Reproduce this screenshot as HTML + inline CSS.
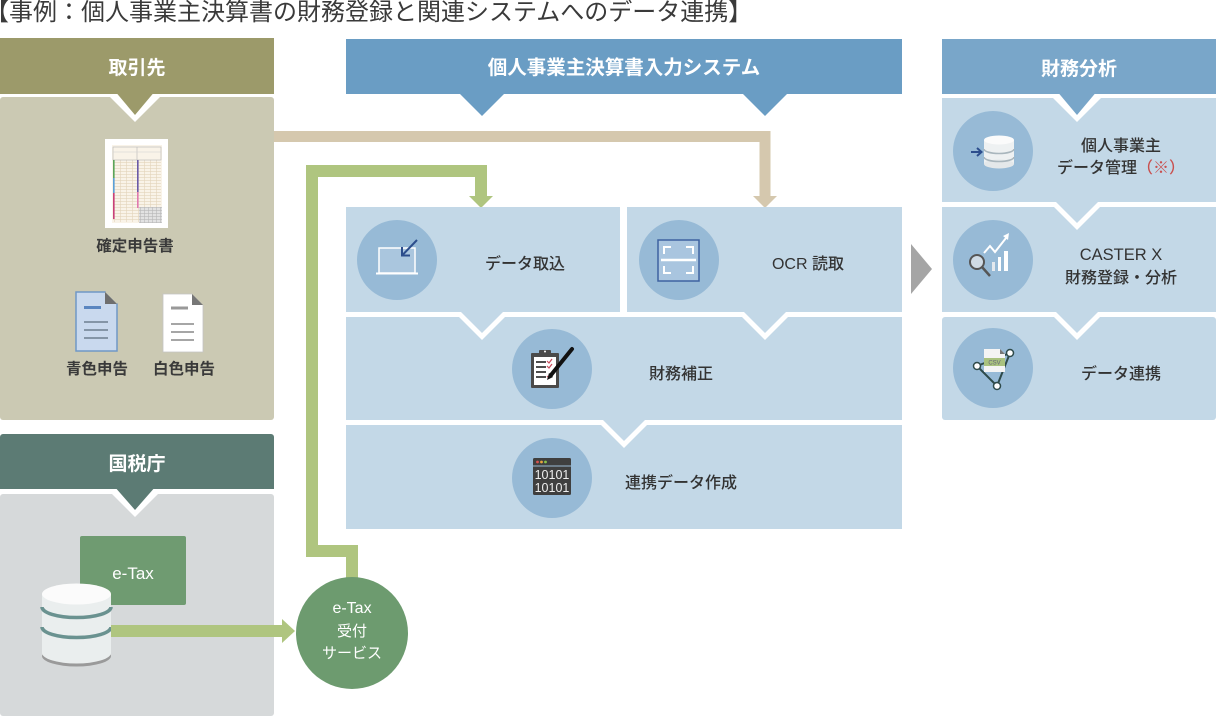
<!DOCTYPE html>
<html><head><meta charset="utf-8">
<style>
html,body{margin:0;padding:0;background:#fff;width:1216px;height:717px;overflow:hidden}
svg{display:block}
text{font-family:"Liberation Sans","Noto Sans CJK JP",sans-serif}
</style></head><body>
<svg width="1216" height="717" viewBox="0 0 1216 717" xmlns="http://www.w3.org/2000/svg">
<defs>
<pattern id="grid" width="6" height="3" patternUnits="userSpaceOnUse">
<path d="M0,0.3 H6 M0.3,0 V3" stroke="#e2d4ba" stroke-width="0.6" fill="none"/>
</pattern>
<pattern id="grid2" width="4" height="3" patternUnits="userSpaceOnUse">
<path d="M0,0.3 H4 M0.3,0 V3" stroke="#b8b8b8" stroke-width="0.6" fill="none"/>
</pattern>
</defs>

<!-- Title -->
<text x="-15" y="20" font-size="24" fill="#3a3a3a">【事例：個人事業主決算書の財務登録と関連システムへのデータ連携】</text>

<!-- ===== 取引先 column ===== -->
<rect x="0" y="97" width="274" height="323" rx="3" fill="#cbc9b3"/>
<polygon points="107,94 163,94 135,122" fill="#fff"/>
<rect x="0" y="38" width="274" height="56" fill="#9c9a6a"/>
<polygon points="114,90 156,90 135,115" fill="#9c9a6a"/>
<text x="137" y="74" font-size="19" font-weight="bold" fill="#fff" text-anchor="middle">取引先</text>

<!-- spreadsheet doc -->
<rect x="105" y="139" width="63" height="89" fill="#fff"/>
<rect x="112" y="145" width="50" height="78" fill="#f9f3e8"/>
<rect x="113" y="160" width="48" height="62" fill="url(#grid)"/>
<rect x="113" y="147" width="48" height="13" fill="none" stroke="#b5b5b5" stroke-width="0.6"/>
<line x1="137" y1="147" x2="137" y2="160" stroke="#b5b5b5" stroke-width="0.6"/>
<line x1="113" y1="152" x2="161" y2="152" stroke="#cfcfcf" stroke-width="0.5"/>
<rect x="113" y="160" width="1.6" height="18" fill="#5aa55a"/>
<rect x="113" y="178" width="1.6" height="15" fill="#5aa0d8"/>
<rect x="113" y="193" width="1.6" height="26" fill="#c8407a"/>
<rect x="137" y="160" width="1.6" height="32" fill="#6a5aa8"/>
<rect x="137" y="192" width="1.6" height="16" fill="#e07ab0"/>
<rect x="139" y="207" width="23" height="16" fill="#e2e2e2"/>
<rect x="139" y="207" width="23" height="16" fill="url(#grid2)"/>

<text x="135" y="251" font-size="15.5" font-weight="bold" fill="#3a3a3a" text-anchor="middle">確定申告書</text>

<!-- blue doc -->
<path d="M76,292 H105 L117,304 V351 H76 Z" fill="#c9d9ee" stroke="#7097c6" stroke-width="1.5"/>
<polygon points="105,292 117,292 117,304" fill="#cbc9b3"/>
<polygon points="105,292 117,304 105,304" fill="#6e6e6e"/>
<line x1="84" y1="307.5" x2="101" y2="307.5" stroke="#5a86c0" stroke-width="3"/>
<line x1="84" y1="322" x2="108" y2="322" stroke="#6d7f8f" stroke-width="1.5"/>
<line x1="84" y1="330" x2="108" y2="330" stroke="#6d7f8f" stroke-width="1.5"/>
<line x1="84" y1="338" x2="108" y2="338" stroke="#6d7f8f" stroke-width="1.5"/>
<text x="97" y="374" font-size="15.5" font-weight="bold" fill="#3a3a3a" text-anchor="middle">青色申告</text>

<!-- white doc -->
<path d="M163,294 H192 L203,305 V352 H163 Z" fill="#fff" stroke="#c4c4c4" stroke-width="0.8"/>
<polygon points="192,294 203,294 203,305" fill="#cbc9b3"/>
<polygon points="192,294 203,305 192,305" fill="#777"/>
<line x1="171" y1="308" x2="188" y2="308" stroke="#999" stroke-width="3"/>
<line x1="171" y1="324" x2="194" y2="324" stroke="#888" stroke-width="1.5"/>
<line x1="171" y1="332" x2="194" y2="332" stroke="#888" stroke-width="1.5"/>
<line x1="171" y1="340" x2="194" y2="340" stroke="#888" stroke-width="1.5"/>
<text x="184" y="374" font-size="15.5" font-weight="bold" fill="#3a3a3a" text-anchor="middle">白色申告</text>

<!-- ===== 国税庁 column ===== -->
<rect x="0" y="494" width="274" height="222" rx="3" fill="#d6d9da"/>
<polygon points="107,489 163,489 135,517" fill="#fff"/>
<rect x="0" y="434" width="274" height="55" rx="3" fill="#5c7b74"/>
<rect x="0" y="440" width="274" height="49" fill="#5c7b74"/>
<polygon points="114,486 156,486 135,510" fill="#5c7b74"/>
<text x="137" y="470" font-size="19" font-weight="bold" fill="#fff" text-anchor="middle">国税庁</text>

<rect x="80" y="536" width="106" height="69" rx="2" fill="#6f9b71"/>
<text x="133" y="579" font-size="17" fill="#fff" text-anchor="middle">e-Tax</text>

<!-- DB cylinder -->
<ellipse cx="76.5" cy="656" rx="34.5" ry="10.5" fill="#9a9a9a"/>
<rect x="42" y="594" width="69" height="59" fill="#eaeeee"/>
<ellipse cx="76.5" cy="653" rx="34.5" ry="10.5" fill="#eaeeee"/>
<path d="M42,607 A34.5,10.5 0 0 0 111,607" stroke="#6a9290" stroke-width="3.5" fill="none"/>
<path d="M42,627 A34.5,10.5 0 0 0 111,627" stroke="#6a9290" stroke-width="3.5" fill="none"/>
<ellipse cx="76.5" cy="594" rx="34.5" ry="10.5" fill="#fbfbfb"/>

<!-- green arrow DB -> circle -->
<rect x="111" y="625" width="172" height="12" fill="#afc57f"/>
<polygon points="282,619 295,631 282,643" fill="#afc57f"/>

<!-- green connector up to データ取込 -->
<path d="M352,580 V551 H312 V171 H481 V198" stroke="#afc57f" stroke-width="12" fill="none" stroke-linejoin="miter"/>
<polygon points="469,196 493,196 481,208" fill="#afc57f"/>

<!-- e-Tax circle -->
<circle cx="352" cy="633" r="56" fill="#6d9b6f"/>
<text x="352" y="613" font-size="16" fill="#fff" text-anchor="middle">e-Tax</text>
<text x="352" y="636" font-size="15" fill="#fff" text-anchor="middle">受付</text>
<text x="352" y="658" font-size="15" fill="#fff" text-anchor="middle">サービス</text>

<!-- tan connector -->
<path d="M274,136.5 H765 V198" stroke="#d5c8ae" stroke-width="11" fill="none" stroke-linejoin="miter"/>
<polygon points="753,196 777,196 765,208" fill="#d5c8ae"/>

<!-- ===== System column ===== -->
<rect x="346" y="39" width="556" height="55" fill="#6a9dc4"/>
<polygon points="459,93 505,93 482,116" fill="#6a9dc4"/>
<polygon points="742,93 788,93 765,116" fill="#6a9dc4"/>
<text x="624" y="74" font-size="19.5" font-weight="bold" fill="#fff" text-anchor="middle">個人事業主決算書入力システム</text>

<rect x="346" y="207" width="274" height="105" fill="#c3d8e7"/>
<rect x="627" y="207" width="275" height="105" fill="#c3d8e7"/>
<rect x="346" y="317" width="556" height="103" fill="#c3d8e7"/>
<rect x="346" y="425" width="556" height="104" fill="#c3d8e7"/>

<polygon points="454,312 510,312 482,340" fill="#fff"/>
<polygon points="737,312 793,312 765,340" fill="#fff"/>
<polygon points="596,420 652,420 624,448" fill="#fff"/>
<polygon points="459,310 505,310 482,333" fill="#c3d8e7"/>
<polygon points="742,310 788,310 765,333" fill="#c3d8e7"/>
<polygon points="601,418 647,418 624,441" fill="#c3d8e7"/>

<!-- circles -->
<circle cx="397" cy="260" r="40" fill="#97bad6"/>
<circle cx="679" cy="260" r="40" fill="#97bad6"/>
<circle cx="552" cy="369" r="40" fill="#97bad6"/>
<circle cx="552" cy="478" r="40" fill="#97bad6"/>

<!-- data import icon -->
<rect x="379" y="248" width="36" height="25" fill="#aac6de" stroke="#fff" stroke-width="1.5"/>
<line x1="376" y1="273.5" x2="418" y2="273.5" stroke="#fff" stroke-width="2"/>
<line x1="417" y1="240" x2="403" y2="254.5" stroke="#2c4d8c" stroke-width="2"/>
<polyline points="402,247 402,255.5 410,255.5" stroke="#2c4d8c" stroke-width="2" fill="none"/>

<!-- OCR icon -->
<rect x="658" y="240" width="41" height="41" fill="#a9c5df" stroke="#3e62a0" stroke-width="1.5"/>
<g stroke="#fff" stroke-width="2" fill="none">
<polyline points="664,254 664,247 671,247"/>
<polyline points="686,247 693,247 693,254"/>
<polyline points="664,266 664,273 671,273"/>
<polyline points="686,273 693,273 693,266"/>
</g>
<line x1="661" y1="260" x2="696" y2="260" stroke="#fff" stroke-width="2.5"/>

<!-- clipboard icon -->
<rect x="531" y="353" width="28" height="35" rx="1" fill="#4a4a4a"/>
<rect x="534" y="357" width="22" height="28" fill="#fff"/>
<rect x="539" y="350" width="12" height="6" rx="1" fill="#4a4a4a"/>
<circle cx="545" cy="351.5" r="1" fill="#fff"/>
<g stroke="#222" stroke-width="1.6">
<line x1="536" y1="362" x2="546" y2="362"/>
<line x1="536" y1="367" x2="546" y2="367"/>
<line x1="536" y1="372" x2="546" y2="372"/>
<line x1="536" y1="377" x2="546" y2="377"/>
</g>
<g stroke="#c84a5a" stroke-width="1.2" fill="none">
<polyline points="547,361 549,363 552,359"/>
<polyline points="547,366 549,368 552,364"/>
<polyline points="547,376 549,378 552,374"/>
</g>
<line x1="572" y1="349" x2="551" y2="375" stroke="#111" stroke-width="4" stroke-linecap="round"/>
<polygon points="549,373 553,377 547,380" fill="#111"/>

<!-- binary icon -->
<rect x="533" y="458" width="38" height="37" rx="1.5" fill="#3f3f3f"/>
<circle cx="537.5" cy="462" r="1.4" fill="#d9534f"/>
<circle cx="541.5" cy="462" r="1.4" fill="#e8a33d"/>
<circle cx="545.5" cy="462" r="1.4" fill="#8bc34a"/>
<line x1="533" y1="466" x2="571" y2="466" stroke="#9bbbd6" stroke-width="1"/>
<text x="552" y="479" font-size="12.5" fill="#eee" text-anchor="middle">10101</text>
<text x="552" y="492" font-size="12.5" fill="#eee" text-anchor="middle">10101</text>

<!-- system labels -->
<text x="525" y="269" font-size="16" font-weight="500" fill="#333" text-anchor="middle">データ取込</text>
<text x="808" y="269" font-size="16" font-weight="500" fill="#333" text-anchor="middle">OCR 読取</text>
<text x="681" y="379" font-size="16" font-weight="500" fill="#333" text-anchor="middle">財務補正</text>
<text x="681" y="488" font-size="16" font-weight="500" fill="#333" text-anchor="middle">連携データ作成</text>

<!-- gray arrow -->
<polygon points="911,244 932,269 911,294" fill="#a5a5a5"/>

<!-- ===== 財務分析 column ===== -->
<rect x="942" y="98" width="274" height="104" fill="#c3d8e7"/>
<rect x="942" y="207" width="274" height="105" fill="#c3d8e7"/>
<rect x="942" y="317" width="274" height="103" rx="3" fill="#c3d8e7"/>
<polygon points="1049,94 1105,94 1077,122" fill="#fff"/>
<rect x="942" y="39" width="274" height="55" fill="#79a6c9"/>
<polygon points="1056,90 1098,90 1077,115" fill="#79a6c9"/>
<text x="1079" y="75" font-size="19" font-weight="bold" fill="#fff" text-anchor="middle">財務分析</text>

<polygon points="1049,202 1105,202 1077,230" fill="#fff"/>
<polygon points="1054,200 1100,200 1077,223" fill="#c3d8e7"/>
<polygon points="1049,312 1105,312 1077,340" fill="#fff"/>
<polygon points="1054,310 1100,310 1077,333" fill="#c3d8e7"/>

<circle cx="993" cy="151" r="40" fill="#97bad6"/>
<circle cx="993" cy="260" r="40" fill="#97bad6"/>
<circle cx="993" cy="368" r="40" fill="#97bad6"/>

<!-- DB icon -->
<rect x="984" y="140" width="30" height="24" fill="#eef1f2"/>
<ellipse cx="999" cy="164" rx="15" ry="4.5" fill="#e4e8ea"/>
<path d="M984,149 A15,4.5 0 0 0 1014,149" stroke="#a9b6bd" stroke-width="1.6" fill="none"/>
<path d="M984,157 A15,4.5 0 0 0 1014,157" stroke="#a9b6bd" stroke-width="1.6" fill="none"/>
<ellipse cx="999" cy="140" rx="15" ry="4.5" fill="#fbfbfb"/>
<line x1="971" y1="152" x2="981" y2="152" stroke="#2c4d8c" stroke-width="2"/>
<polyline points="977,148 981.5,152 977,156" stroke="#2c4d8c" stroke-width="2" fill="none"/>

<!-- chart icon -->
<rect x="992" y="262" width="3" height="9" fill="#e4e9ee"/>
<rect x="998" y="257" width="3" height="14" fill="#fff"/>
<rect x="1004" y="251" width="4" height="20" fill="#fff"/>
<polyline points="984,253 990,246 995,252 1006,238" stroke="#fff" stroke-width="2" fill="none"/>
<polygon points="1003,236 1009,233 1008,240" fill="#fff"/>
<circle cx="977" cy="262" r="7" fill="#cfdbe5" stroke="#555" stroke-width="2"/>
<line x1="982" y1="267" x2="990" y2="276" stroke="#555" stroke-width="2.5"/>

<!-- CSV network icon -->
<g stroke="#2e4a4a" stroke-width="2">
<line x1="977" y1="366" x2="997" y2="386"/>
<line x1="997" y1="386" x2="1010" y2="353"/>
<line x1="977" y1="366" x2="1010" y2="353"/>
</g>
<path d="M984,349 H1000 L1005,354 V372 H984 Z" fill="#f4f4f4"/>
<polygon points="1000,349 1005,354 1000,354" fill="#777"/>
<rect x="984" y="358" width="21" height="8" fill="#a9c27f"/>
<text x="994.5" y="364.5" font-size="6" fill="#667" text-anchor="middle">CSV</text>
<circle cx="977" cy="366" r="3.5" fill="#fff" stroke="#2e4a4a" stroke-width="1.5"/>
<circle cx="1010" cy="353" r="3.5" fill="#fff" stroke="#2e4a4a" stroke-width="1.5"/>
<circle cx="997" cy="386" r="3.5" fill="#fff" stroke="#2e4a4a" stroke-width="1.5"/>

<!-- right labels -->
<text x="1121" y="151" font-size="16" font-weight="500" fill="#333" text-anchor="middle">個人事業主</text>
<text x="1121" y="173" font-size="16" font-weight="500" fill="#333" text-anchor="middle">データ管理<tspan fill="#c9504f">（※）</tspan></text>
<text x="1121" y="260" font-size="16.5" font-weight="500" fill="#333" text-anchor="middle">CASTER X</text>
<text x="1121" y="283" font-size="16" font-weight="500" fill="#333" text-anchor="middle">財務登録・分析</text>
<text x="1121" y="379" font-size="16" font-weight="500" fill="#333" text-anchor="middle">データ連携</text>
</svg>
</body></html>
